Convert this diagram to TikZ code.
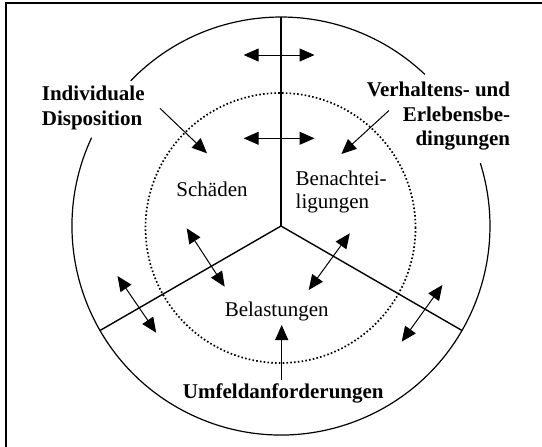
\documentclass[tikz,border=0pt]{standalone}
\usepackage{fontspec}
\setmainfont{Liberation Serif}
\usetikzlibrary{arrows.meta}
\begin{document}
\begin{tikzpicture}[x=1pt,y=1pt,
  ring/.style={line width=1.2pt},
  spoke/.style={line width=1.4pt},
  zone/.style={line width=1.7pt, dash pattern=on 1.6pt off 2.2pt},
  tip/.tip={Triangle[length=15pt,width=13pt]},
  link/.style={line width=1pt, -tip},
  both/.style={line width=1pt, tip-tip},
  head/.style={font=\fontsize{21}{24}\selectfont\bfseries, inner sep=0pt},
  area/.style={font=\fontsize{21}{24}\selectfont, inner sep=0pt}]

\useasboundingbox (0,0) rectangle (542,-447);
\fill[white] (0,0) rectangle (542,-447);
% frame
\draw[line width=1.6pt] (6,-447) -- (6,-3) -- (542,-3);

% centre, outer ring with gaps for the labels, spokes
\coordinate (c) at (281,-226);
\draw[ring] (c) ++(46.5:209) arc[start angle=46.5, end angle=136, radius=209];
\draw[ring] (c) ++(155:209) arc[start angle=155, end angle=377.5, radius=209];
\draw[spoke] (c) -- ++(90:209);
\draw[spoke] (c) -- ++(210:209);
\draw[spoke] (c) -- ++(330:209);

% inner dotted ring
\draw[zone] (280.5,-228) circle[radius=135];

% outer labels
\node[head, anchor=base west] (ind1) at (41.7,-100.7) {Individuale};
\node[head, anchor=base west] (ind2) at (41.7,-125) {Disposition};
\node[head, anchor=base east] (ver1) at (510.3,-96.7) {Verhaltens- und};
\node[head, anchor=base east] (ver2) at (510.3,-121.2) {Erlebensbe-};
\node[head, anchor=base east] (ver3) at (510.3,-145.2) {dingungen};
\node[head, anchor=base] (umf) at (283.3,-398.3) {Umfeldanforderungen};

% inner labels
\node[area, anchor=base] (sch) at (212,-196.5) {Schäden};
\node[area, anchor=base west] (ben1) at (295.5,-185.5) {Benachtei-};
\node[area, anchor=base west] (ben2) at (295.5,-208.8) {ligungen};
\node[area, anchor=base] (bel) at (276.7,-316.7) {Belastungen};

% arrow end points
\coordinate (a1) at (160,-108.3);   \coordinate (a2) at (207,-153.3);
\coordinate (b1) at (389,-110.5);   \coordinate (b2) at (341.4,-154);
\coordinate (u1) at (281.7,-379.5); \coordinate (u2) at (281.7,-325);
\coordinate (h1) at (243.7,-55);    \coordinate (h2) at (314.5,-55);
\coordinate (k1) at (243.7,-138.3); \coordinate (k2) at (314.5,-138.3);
\coordinate (l1) at (186.7,-228.3); \coordinate (l2) at (224.7,-286.7);
\coordinate (r1) at (349.8,-233.3); \coordinate (r2) at (308.7,-290);
\coordinate (p1) at (117.5,-276);   \coordinate (p2) at (156.2,-332.7);
\coordinate (q1) at (442.4,-285);   \coordinate (q2) at (401.7,-341.7);

% influences from outside
\draw[link] (a1) -- (a2);
\draw[link] (b1) -- (b2);
\draw[link] (u1) -- (u2);

% mutual exchanges across the spokes
\draw[both] (h1) -- (h2);
\draw[both] (k1) -- (k2);
\draw[both] (l1) -- (l2);
\draw[both] (r1) -- (r2);
\draw[both] (p1) -- (p2);
\draw[both] (q1) -- (q2);
\end{tikzpicture}
\end{document}
